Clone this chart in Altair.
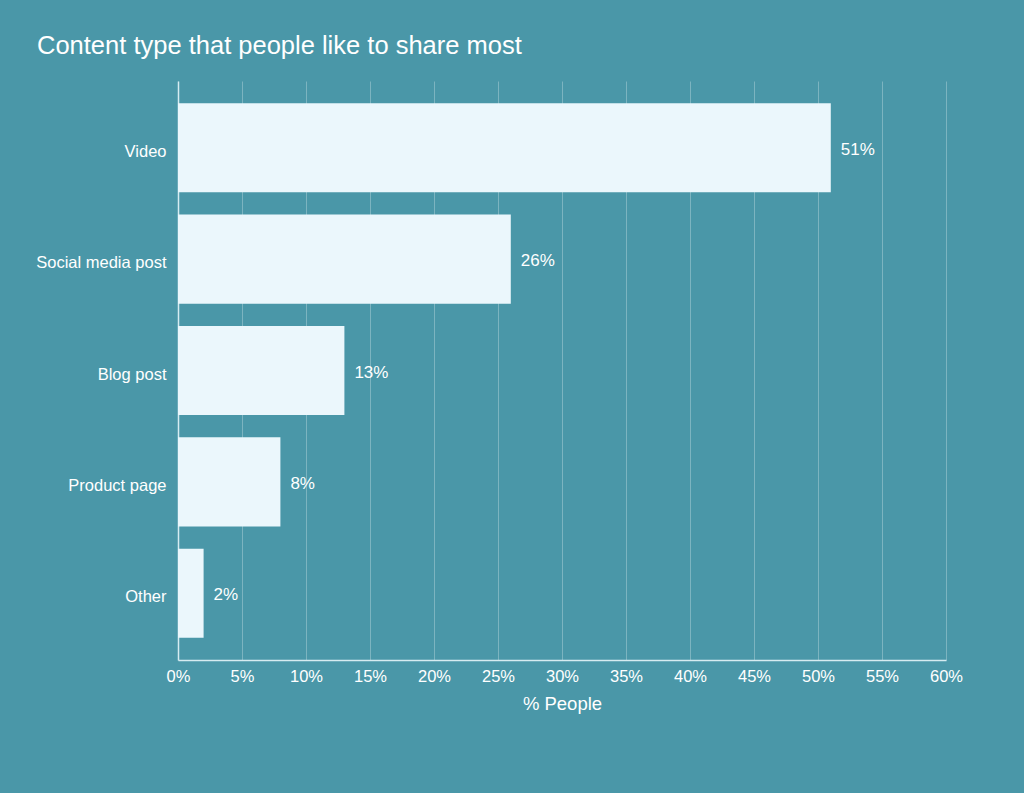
import altair as alt
import pandas as pd

categories = ["Video", "Social media post", "Blog post", "Product page", "Other"]
values = [51, 26, 13, 8, 2]
labels = ["51%", "26%", "13%", "8%", "2%"]

df = pd.DataFrame({"cat": categories, "val": values, "lab": labels})

BG = "#4A97A8"
BAR = "#EBF7FC"
FONT = "Liberation Sans"

y_enc = alt.Y("cat:N", sort=categories, title=None,
              scale=alt.Scale(paddingInner=0.2, paddingOuter=0.2),
              axis=alt.Axis(labelColor="white", labelFontSize=16.5, labelFont=FONT,
                            ticks=False, labelPadding=12, domainColor="#D6ECF1",
                            domainWidth=1.5, grid=False, labelOffset=4))
x_enc = alt.X("val:Q", title="% People",
              scale=alt.Scale(domain=[0, 60]),
              axis=alt.Axis(values=list(range(0, 61, 5)), labelExpr="datum.value + '%'",
                            labelColor="white", labelFontSize=16.5, labelFont=FONT,
                            labelFlush=False,
                            ticks=False, labelPadding=8, domainColor="#D6ECF1",
                            domainWidth=1.5, gridColor="white", gridOpacity=0.28,
                            titleColor="white", titleFontSize=18.5, titleFont=FONT,
                            titleFontWeight="normal", titlePadding=10))

bars = alt.Chart(df).mark_bar(color=BAR).encode(x=x_enc, y=y_enc)
text = alt.Chart(df).mark_text(align="left", dx=10, dy=2, color="white",
                               fontSize=17, font=FONT).encode(
    x="val:Q", y=alt.Y("cat:N", sort=categories), text="lab:N")

chart = (bars + text).properties(
    width=768, height=579,
    background=BG,
    padding={"left": 178, "top": 81, "right": 78, "bottom": 133},
    autosize=alt.AutoSizeParams(type="none"),
    title=alt.TitleParams("Content type that people like to share most",
                          anchor="start", frame="group", dx=-141, dy=29, offset=31,
                          baseline="alphabetic", color="white", fontSize=25.5,
                          font=FONT, fontWeight="normal"),
).configure_view(stroke=None)

chart.save("out.html", embed_options={"renderer": "svg", "actions": False})
